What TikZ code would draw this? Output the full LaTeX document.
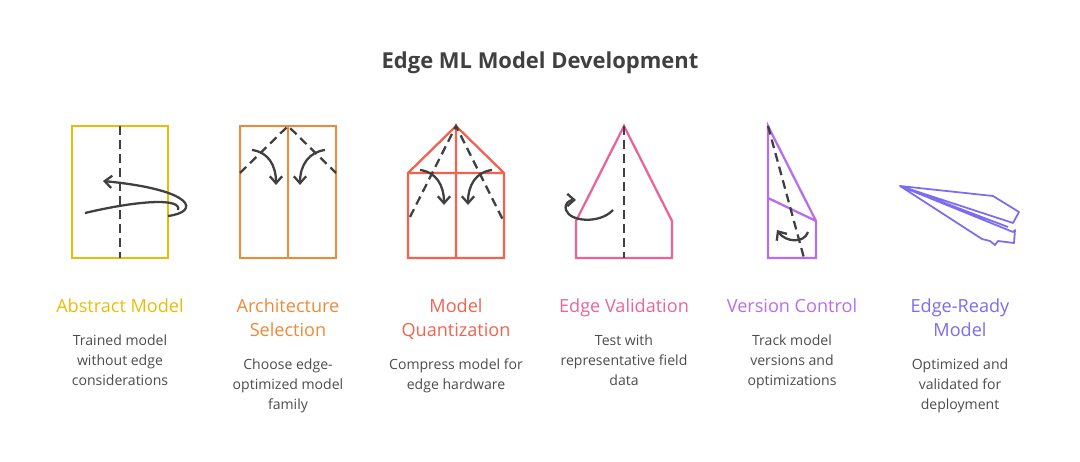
\documentclass[tikz,border=0pt]{standalone}
\usepackage{fontspec}
\setmainfont{Open Sans}
\usetikzlibrary{arrows.meta}
\begin{document}
\begin{tikzpicture}[x=0.02cm,y=-0.02cm,line width=1.3pt,
  dsh/.style={draw=black!75,dash pattern=on 5pt off 3pt,line width=1.3pt},
  arr/.style={draw=black!75,line width=1.3pt,-{Straight Barb[length=4pt,width=7pt]}},
  hd/.style={font=\fontsize{10.3pt}{13.6pt}\selectfont,align=center,anchor=north},
  ds/.style={font=\fontsize{8pt}{11.4pt}\selectfont,align=center,anchor=north,text=black!70}]
\useasboundingbox (0,0) rectangle (1080,462);
\definecolor{cy}{HTML}{E6BE0A}\definecolor{co}{HTML}{EC8A3A}\definecolor{cr}{HTML}{EF6350}
\definecolor{cp}{HTML}{E8649A}\definecolor{cu}{HTML}{B86DEA}\definecolor{cv}{HTML}{7B6CF0}
\node[font=\bfseries\fontsize{12.5pt}{15pt}\selectfont,text=black!75] (title) at (540,63) {Edge ML Model Development};
% 1
\draw[cy] (72,126) rectangle (168,258);
\draw[dsh] (120,126) -- (120,258);
\draw[arr] (168,216) .. controls (200,212) and (196,190) .. (103,181);
\draw[black!75] (85,213) .. controls (140,200) and (182,198) .. (178,210);
% 2
\draw[co] (240,126) rectangle (336,258) (288,126) -- (288,258);
\draw[dsh] (240,173) -- (288,126) -- (336,173);
\draw[arr] (252,150) .. controls (268,152) and (276,165) .. (276,185);
\draw[arr] (325,150) .. controls (309,152) and (300,165) .. (300,185);
% 3
\draw[cr] (408,173) rectangle (504,258) (408,173) -- (456,126) -- (504,173) (456,126) -- (456,258);
\draw[dsh] (410,217) -- (456,126) -- (504,222);
\draw[arr] (420,170) .. controls (436,172) and (444,185) .. (444,205);
\draw[arr] (492,170) .. controls (476,172) and (468,185) .. (468,205);
% 4
\draw[cp] (576,221) -- (624,126) -- (672,221) -- (672,258) -- (576,258) -- cycle;
\draw[dsh] (624,126) -- (624,258);
\draw[arr] (613,210) .. controls (600,224) and (570,222) .. (566,210) .. controls (564,203) and (570,200) .. (576,200);
% 5
\draw[cu] (768,126) -- (816,221) -- (816,258) -- (768,258) -- cycle (768,198) -- (816,221);
\draw[dsh] (768,126) -- (804,258);
\draw[arr] (808,232) .. controls (804,244) and (785,242) .. (777,230);
% 6
\draw[cv,line width=1pt,line join=round] (900,186) -- (993,196) -- (1019,212) -- (1013,223) -- cycle
 (900,186) -- (1013,232) -- (1015,230) -- (1014,243) -- (998,241) -- (995,245) -- (990,241) -- (982,239) -- cycle
 (900,186) -- (1008,227);
% labels
\node[hd,text=cy] (h1) at (120,292) {Abstract Model};
\node[ds] (d1) at (120,328) {Trained model\\without edge\\considerations};
\node[hd,text=co] (h2) at (288,292) {Architecture\\Selection};
\node[ds] (d2) at (288,352) {Choose edge-\\optimized model\\family};
\node[hd,text=cr] (h3) at (456,292) {Model\\Quantization};
\node[ds] (d3) at (456,352) {Compress model for\\edge hardware};
\node[hd,text=cp] (h4) at (624,292) {Edge Validation};
\node[ds] (d4) at (624,328) {Test with\\representative field\\data};
\node[hd,text=cu] (h5) at (792,292) {Version Control};
\node[ds] (d5) at (792,328) {Track model\\versions and\\optimizations};
\node[hd,text=cv] (h6) at (960,292) {Edge-Ready\\Model};
\node[ds] (d6) at (960,352) {Optimized and\\validated for\\deployment};
\end{tikzpicture}
\end{document}
